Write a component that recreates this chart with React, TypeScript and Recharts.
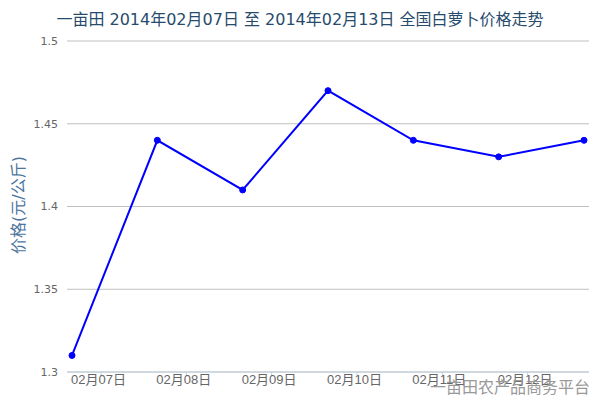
import { LineChart, Line, XAxis, YAxis, CartesianGrid } from "recharts";

// ---------------------------------------------------------------------------
// Data
// ---------------------------------------------------------------------------

const dates = ["02月07日", "02月08日", "02月09日", "02月10日", "02月11日", "02月12日", "02月13日"];
const prices = [1.31, 1.44, 1.41, 1.47, 1.44, 1.43, 1.44];
const yTicks = [1.3, 1.35, 1.4, 1.45, 1.5];
// the last date label is not drawn in the original (it would run off the edge)
const xTicks = [0, 1, 2, 3, 4, 5];

const data = prices.map((price, i) => ({ i, date: dates[i], price }));

const FONT = '"DejaVu Sans", "Noto Sans CJK SC", sans-serif';
const LABEL_FONT = '"Liberation Sans", "Noto Sans CJK SC", sans-serif';

// ---------------------------------------------------------------------------
// Custom x tick: label left-aligned on the point, small tick mark to its right
// ---------------------------------------------------------------------------

function DateTick(props: any) {
  const { x, y, payload } = props;
  return (
    <g>
      <line x1={x + 29} x2={x + 29} y1={y} y2={y + 4} stroke="#C0D0E0" />
      <text
        x={x - 1}
        y={y + 12}
        textAnchor="start"
        fill="#666"
        fontSize={13}
        fontFamily={LABEL_FONT}
      >
        {dates[payload.value]}
      </text>
    </g>
  );
}

// ---------------------------------------------------------------------------
// Component
// ---------------------------------------------------------------------------

export default function App() {
  return (
    <div
      style={{
        position: "absolute",
        left: 0,
        top: 0,
        width: 600,
        height: 400,
        background: "#fff",
        fontFamily: FONT,
      }}
    >
      <div
        style={{
          position: "absolute",
          left: 0,
          top: 11,
          width: 600,
          textAlign: "center",
          fontSize: 16,
          lineHeight: "18px",
          color: "#274b6d",
        }}
      >
        一亩田 2014年02月07日 至 2014年02月13日 全国白萝卜价格走势
      </div>

      <LineChart
        width={600}
        height={400}
        data={data}
        margin={{ top: 41, right: 11, bottom: 0, left: 0 }}
      >
        <CartesianGrid horizontal vertical={false} stroke="#C0C0C0" />
        <XAxis
          type="number"
          dataKey="i"
          domain={[0, 6]}
          ticks={xTicks}
          height={28}
          padding={{ left: 5, right: 5 }}
          axisLine={{ stroke: "#C0D0E0" }}
          tickLine={false}
          tickSize={0}
          tickMargin={0}
          tick={<DateTick />}
          interval={0}
        />
        <YAxis
          type="number"
          domain={[1.3, 1.5]}
          ticks={yTicks}
          width={67}
          axisLine={false}
          tickLine={false}
          tickSize={0}
          tickMargin={9}
          tick={{ fill: "#666", fontSize: 11, fontFamily: FONT }}
        />
        <Line
          type="linear"
          dataKey="price"
          stroke="#0000ff"
          strokeWidth={2}
          dot={{ r: 3, fill: "#0000ff", stroke: "#0000ff", strokeWidth: 1 }}
          activeDot={false}
          isAnimationActive={false}
        />
      </LineChart>

      <div
        style={{
          position: "absolute",
          left: 19,
          top: 205,
          transform: "translate(-50%, -50%) rotate(-90deg)",
          whiteSpace: "nowrap",
          fontSize: 16,
          lineHeight: "18px",
          color: "#4d759e",
        }}
      >
        价格(元/公斤)
      </div>

      <div
        style={{
          position: "absolute",
          left: 430,
          top: 379,
          fontSize: 16,
          lineHeight: "18px",
          color: "#999",
          whiteSpace: "nowrap",
        }}
      >
        一亩田农产品商务平台
      </div>
    </div>
  );
}
